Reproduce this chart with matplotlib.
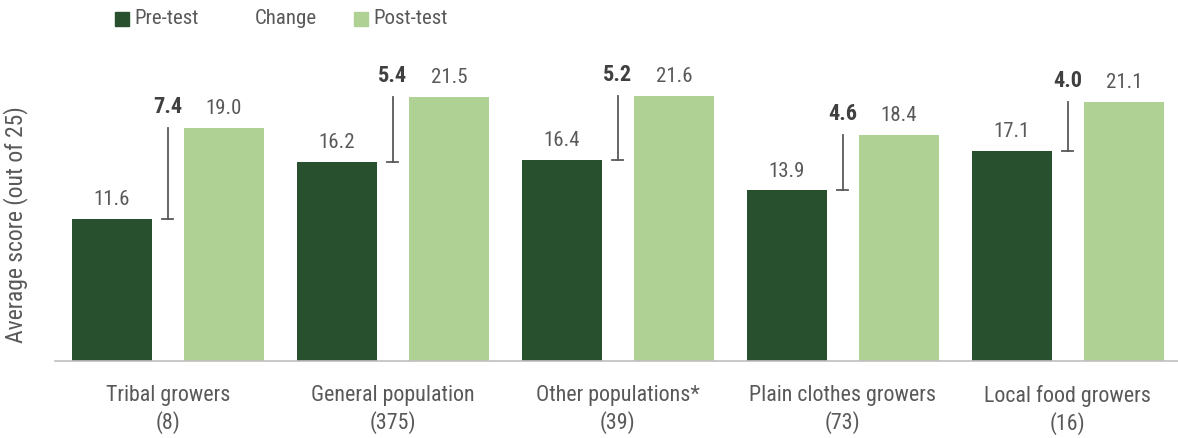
import numpy as np
import matplotlib
matplotlib.use("Agg")
import matplotlib.pyplot as plt
from matplotlib.patches import Rectangle
from matplotlib import font_manager

groups = ["Tribal growers\n(8)", "General population\n(375)", "Other populations*\n(39)",
          "Plain clothes growers\n(73)", "Local food growers\n(16)"]
pre_test = [11.6, 16.2, 16.4, 13.9, 17.1]
post_test = [19.0, 21.5, 21.6, 18.4, 21.1]
change = [7.4, 5.4, 5.2, 4.6, 4.0]

avail = {f.name for f in font_manager.fontManager.ttflist}
fams = [f for f in ["Roboto Condensed", "Liberation Sans Narrow", "Roboto", "DejaVu Sans"] if f in avail]
plt.rcParams['font.family'] = fams

PRE = "#28502e"
POST = "#afd194"
TXT = "#595959"

W, H = 1178, 438
fig = plt.figure(figsize=(W / 100, H / 100), dpi=100, facecolor="white")
ax = fig.add_axes([0.047, 0.176, 0.955, 0.742])

x = np.arange(len(groups))
w = 0.356
off = 0.249
ax.bar(x - off, pre_test, w, color=PRE)
ax.bar(x + off, post_test, w, color=POST)

for i in range(len(groups)):
    # change bracket between pre and post values
    ax.plot([x[i], x[i]], [pre_test[i], post_test[i]], color="#595959", lw=1.3)
    ax.plot([x[i] - 0.025, x[i] + 0.025], [pre_test[i], pre_test[i]], color="#595959", lw=1.3)
    ax.text(x[i] - off, pre_test[i] + 0.8, f"{pre_test[i]:.1f}", ha="center", va="bottom",
            fontsize=15, color=TXT)
    ax.text(x[i] + off, post_test[i] + 0.8, f"{post_test[i]:.1f}", ha="center", va="bottom",
            fontsize=15, color=TXT)
    ax.text(x[i], post_test[i] + 0.8, f"{change[i]:.1f}", ha="center", va="bottom",
            fontsize=16, fontweight="bold", color="#404040")

ax.set_xlim(-0.5, 4.5)
ax.set_ylim(0, 26.5)
ax.set_xticks(x)
ax.set_xticklabels(groups, fontsize=15.8, color=TXT, linespacing=1.3)
ax.tick_params(axis="x", length=0, pad=17)
ax.set_yticks([])
for s in ["top", "right", "left"]:
    ax.spines[s].set_visible(False)
ax.spines["bottom"].set_color("#bfbfbf")
ax.spines["bottom"].set_linewidth(1.2)
ax.set_ylabel("Average score (out of 25)", fontsize=17, color=TXT)
ax.yaxis.set_label_coords(-0.024, 0.42)

# legend drawn by hand: square, label, with a text-only "Change" entry
legend_items = [(115, PRE, "Pre-test"), (255, None, "Change"), (354, POST, "Post-test")]
ly = 19
for px, col, lab in legend_items:
    if col is not None:
        fig.patches.append(Rectangle((px / W, 1 - (ly + 7) / H), 14 / W, 14 / H,
                                     transform=fig.transFigure, color=col))
        tx = px + 19
    else:
        tx = px
    fig.text(tx / W, 1 - ly / H, lab, ha="left", va="center", fontsize=15, color=TXT)

fig.savefig("out.png", dpi=100, facecolor="white")
